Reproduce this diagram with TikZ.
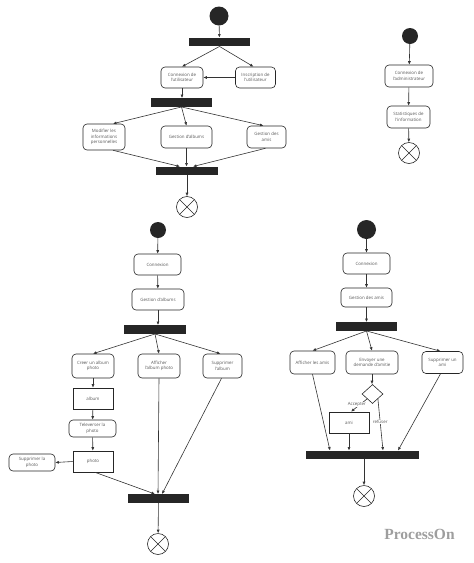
\documentclass[tikz,border=0pt]{standalone}
\usepackage{fontspec}
\setmainfont{Open Sans}
\newfontfamily\wmfont{Liberation Serif}
\usetikzlibrary{arrows.meta,shapes.geometric}
\begin{document}
\begin{tikzpicture}[x=1pt,y=-1pt,
  lbl/.style={font=\fontsize{4.4}{5.6}\selectfont, text=black!65},
  act/.style={draw=black!85, line width=0.6pt, rounded corners=4pt, align=center, inner sep=1pt, lbl, fill=white},
  obj/.style={draw=black!85, line width=0.6pt, align=center, inner sep=1pt, lbl, fill=white},
  bar/.style={fill=black!85, draw=none, inner sep=0pt, minimum height=8.5pt},
  init/.style={circle, fill=black!85, inner sep=0pt},
  final/.style={circle, draw=black!85, line width=0.6pt, inner sep=0pt, minimum size=21pt,
    path picture={\draw[line width=0.6pt, black!85] (path picture bounding box.north west) -- (path picture bounding box.south east)
      (path picture bounding box.north east) -- (path picture bounding box.south west);}},
  choice/.style={diamond, draw=black!85, line width=0.6pt, inner sep=0pt, minimum width=21pt, minimum height=19pt, fill=white},
  arr/.style={draw=black!80, line width=0.6pt, -{Latex[length=3.5pt,width=3pt]}},
  edgelbl/.style={lbl, fill=white, inner sep=0.5pt}
]
\useasboundingbox (0,0) rectangle (474,563);

% ---------- Diagram 1 : utilisateur ----------
\node[init, minimum size=19pt] (s1) at (219,16) {};
\node[bar, minimum width=61pt] (b1) at (219.5,42) {};
\node[act, minimum width=42pt, minimum height=21pt] (c1) at (182,77.5) {Connexion de\\l'utilisateur};
\node[act, minimum width=40pt, minimum height=21pt] (i1) at (255.5,77.5) {Inscription de\\l'utilisateur};
\node[bar, minimum width=61pt] (b2) at (181.5,102.5) {};
\node[act, minimum width=42pt, minimum height=26pt] (m1) at (104,137) {Modifier les\\informations\\personnelles};
\node[act, minimum width=51pt, minimum height=22pt] (g1) at (186.5,137) {Gestion d'albums};
\node[act, minimum width=39pt, minimum height=22pt] (a1) at (266.5,137) {Gestion des\\amis};
\node[bar, minimum width=62pt] (b3) at (187,171) {};
\node[final] (e1) at (187,207) {};

\draw[arr] (s1) -- (b1);
\draw[arr] (b1.south) -- (c1.north);
\draw[arr] (b1.south) -- ([xshift=-2pt]i1.north);
\draw[arr] (i1.west) -- (c1.east);
\draw[arr] (c1.south) -- (c1.south |- b2.north);
\draw[arr] (b2.south) -- ([xshift=9pt]m1.north);
\draw[arr] (b2.south) -- (g1.north);
\draw[arr] (b2.south) -- ([xshift=-3pt]a1.north);
\draw[arr] ([xshift=9pt]m1.south) -- ([xshift=-7pt]b3.north);
\draw[arr] (g1.south) -- (g1.south |- b3.north);
\draw[arr] ([xshift=-1pt]a1.south) -- ([xshift=6pt]b3.north);
\draw[arr] (b3) -- (e1);

% ---------- Diagram 2 : administrateur ----------
\node[init, minimum size=16pt] (s2) at (410,36) {};
\node[act, minimum width=48pt, minimum height=22pt] (c2) at (409,76) {Connexion de\\l'administrateur};
\node[act, minimum width=43pt, minimum height=22pt] (st2) at (408.5,117) {Statistiques de\\l'information};
\node[final] (e2) at (409,153) {};
\draw[arr] (s2) -- (c2);
\draw[arr] (c2) -- (st2);
\draw[arr] (st2) -- (e2);

% ---------- Diagram 3 : albums ----------
\node[init, minimum size=16pt] (s3) at (158,230) {};
\node[act, minimum width=47pt, minimum height=21pt] (c3) at (157.5,264.5) {Connexion};
\node[act, minimum width=52pt, minimum height=21pt] (g3) at (158,299.5) {Gestion d'albums};
\node[bar, minimum width=62pt] (b4) at (155,329.5) {};
\node[act, minimum width=42pt, minimum height=24pt] (cr3) at (93,366) {Creer un album\\photo};
\node[act, minimum width=42pt, minimum height=24pt] (af3) at (159,366) {Afficher\\l'album photo};
\node[act, minimum width=39pt, minimum height=24pt] (su3) at (222.5,366) {Supprimer\\l'album};
\node[obj, minimum width=40pt, minimum height=21pt] (al3) at (93,398.5) {album};
\node[act, minimum width=47pt, minimum height=17pt] (tv3) at (92.5,428.5) {Televerser la\\photo};
\node[obj, minimum width=40pt, minimum height=21pt] (ph3) at (93,461.5) {photo};
\node[act, minimum width=46pt, minimum height=17pt] (sp3) at (32,462.5) {Supprimer la\\photo};
\node[bar, minimum width=61pt] (b5) at (158.5,498.5) {};
\node[final] (e3) at (158,544) {};

\draw[arr] (s3) -- (c3);
\draw[arr] (c3) -- (g3);
\draw[arr] (g3.south) -- (g3.south |- b4.north);
\draw[arr] (b4.south) -- (cr3.north);
\draw[arr] (b4.south) -- (af3.north);
\draw[arr] (b4.south) -- ([xshift=-2pt]su3.north);
\draw[arr] (cr3) -- (al3);
\draw[arr] (al3) -- (tv3);
\draw[arr] (tv3) -- (ph3);
\draw[arr] (ph3.west) -- (sp3.east);
\draw[arr] ([xshift=2pt]ph3.south) -- ([xshift=-3.5pt]b5.north);
\draw[arr] (af3.south) -- ([xshift=-0.5pt]b5.north);
\draw[arr] ([xshift=-1pt]su3.south) -- ([xshift=3.5pt]b5.north);
\draw[arr] (b5) -- (e3);

% ---------- Diagram 4 : amis ----------
\node[init, minimum size=19pt] (s4) at (366.5,229.5) {};
\node[act, minimum width=47pt, minimum height=21pt] (c4) at (366.5,263.5) {Connexion};
\node[act, minimum width=51pt, minimum height=19pt] (g4) at (366.5,297.5) {Gestion des amis};
\node[bar, minimum width=61pt] (b6) at (366.5,326.5) {};
\node[act, minimum width=45pt, minimum height=23pt] (af4) at (312.5,362.5) {Afficher les amis};
\node[act, minimum width=52pt, minimum height=23pt] (en4) at (372,362.5) {Envoyer une\\demande d'amitie};
\node[act, minimum width=41pt, minimum height=22pt] (su4) at (442.5,362.5) {Supprimer un\\ami};
\node[choice] (dm4) at (372.5,394) {};
\node[obj, minimum width=40pt, minimum height=21pt] (am4) at (349,422.5) {ami};
\node[bar, minimum width=113pt] (b7) at (362.5,455) {};
\node[final] (e4) at (364,496) {};

\draw[arr] (s4) -- (c4);
\draw[arr] (c4) -- (g4);
\draw[arr] (g4.south) -- (g4.south |- b6.north);
\draw[arr] (b6.south) -- (af4.north);
\draw[arr] (b6.south) -- (en4.north);
\draw[arr] (b6.south) -- ([xshift=-2pt]su4.north);
\draw[arr] (en4.south) -- (en4.south |- dm4.north);
\draw[arr] (dm4.south west) -- node[edgelbl, pos=0.45, xshift=-3pt] {Accepter} ([xshift=2pt]am4.north);
\draw[arr] (dm4.south east) -- node[edgelbl, pos=0.45] {refuser} ([xshift=20.5pt]b7.north);
\draw[arr] (af4.south) -- ([xshift=-32.5pt]b7.north);
\draw[arr] (am4.south) -- (am4.south |- b7.north);
\draw[arr] ([xshift=-2pt]su4.south) -- ([xshift=35.5pt]b7.north);
\draw[arr] (b7.south -| e4.north) -- (e4);

% ---------- watermark ----------
\node[font=\wmfont\bfseries\fontsize{15.5}{17}\selectfont, text=black!38] (wm) at (419.5,534.5) {ProcessOn};
\end{tikzpicture}
\end{document}
